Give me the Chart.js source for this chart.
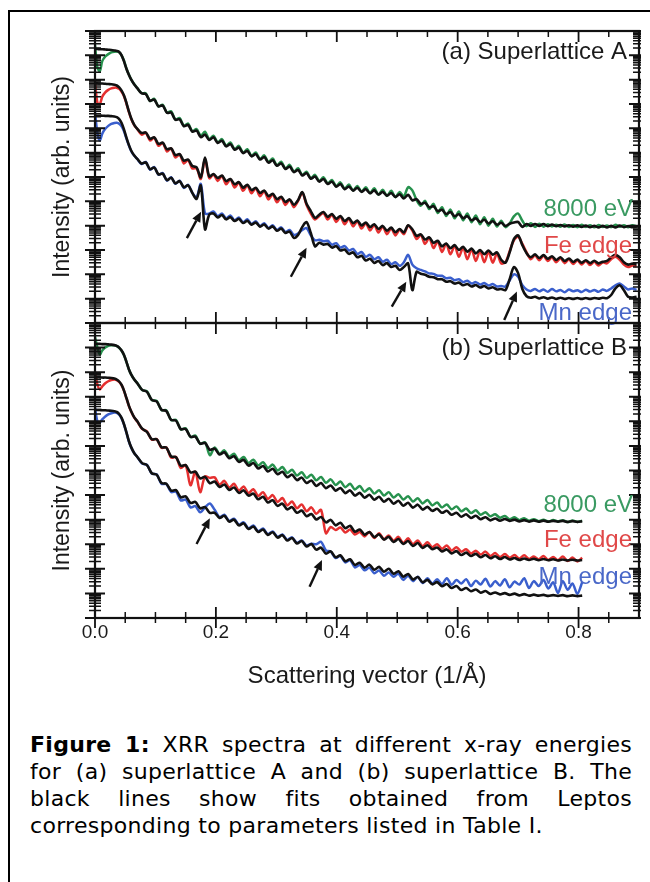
<!DOCTYPE html>
<html lang="en">
<head>
<meta charset="UTF-8">
<title>XRR spectra</title>
<script src="https://cdn.jsdelivr.net/npm/chart.js@4.4.1/dist/chart.umd.min.js"></script>
<style>
  body { margin: 0; background: #fff; width: 650px; height: 882px; overflow: hidden; position: relative; }
  #frame { position: absolute; left: 8px; top: 10px; right: -20px; bottom: -20px; border-left: 2px solid #000; border-top: 2px solid #000; }
  canvas { position: absolute; left: 0; }
  #chartA { top: 0; }
  #chartB { top: 300px; }
  #caption { position: absolute; left: 30px; top: 731px; width: 602px; font-family: "DejaVu Sans", Verdana, sans-serif; font-size: 22px; line-height: 27px; color: #000; letter-spacing: 0.3px; }
  #caption div { text-align: justify; text-align-last: justify; }
  #caption div.last { text-align-last: left; }
</style>
</head>
<body>
<div id="frame"></div>
<canvas id="chartA" width="650" height="330"></canvas>
<canvas id="chartB" width="650" height="400"></canvas>
<div id="caption">
  <div><b>Figure 1:</b> XRR spectra at different x-ray energies</div>
  <div>for (a) superlattice A and (b) superlattice B. The</div>
  <div>black lines show fits obtained from Leptos</div>
  <div class="last">corresponding to parameters listed in Table I.</div>
</div>
<script>
// y values are log10(intensity) in decades, 0 = bottom of each panel, 12 = top
const yDecades = [0, 1, 2, 3, 4, 5, 6, 7, 8, 9, 10, 11, 12];
const yMinorFactors = [2, 3, 4, 5, 6, 7, 8, 9];
const xMajorTicks = [0, 0.2, 0.4, 0.6, 0.8];
const xTickLabels = ['0.0', '0.2', '0.4', '0.6', '0.8'];
const xMinorTicks = [0.05, 0.1, 0.15, 0.25, 0.3, 0.35, 0.45, 0.5, 0.55, 0.65, 0.7, 0.75, 0.85];

// panel (a) superlattice A
const qA = [0, 0.004, 0.008, 0.012, 0.017, 0.022, 0.027, 0.032, 0.036, 0.040, 0.044, 0.048, 0.052, 0.056, 0.060, 0.065,
  0.070, 0.077, 0.084, 0.091, 0.098, 0.105, 0.112, 0.119, 0.126, 0.133,
  0.140, 0.147, 0.154, 0.161, 0.168, 0.175, 0.182, 0.189, 0.196, 0.203,
  0.210, 0.217, 0.224, 0.231, 0.238, 0.245, 0.252, 0.259, 0.266, 0.273,
  0.280, 0.287, 0.294, 0.301, 0.308, 0.315, 0.322, 0.329, 0.336, 0.343,
  0.350, 0.357, 0.364, 0.371, 0.378, 0.385, 0.392, 0.399, 0.406, 0.413,
  0.420, 0.427, 0.434, 0.441, 0.448, 0.455, 0.462, 0.469, 0.476, 0.483,
  0.490, 0.497, 0.504, 0.511, 0.518, 0.525, 0.532, 0.539, 0.546, 0.553,
  0.560, 0.567, 0.574, 0.581, 0.588, 0.595, 0.602, 0.609, 0.616, 0.623,
  0.630, 0.637, 0.644, 0.651, 0.658, 0.665, 0.672, 0.679, 0.686, 0.693,
  0.700, 0.707, 0.714, 0.721, 0.728, 0.735, 0.742, 0.749, 0.756, 0.763,
  0.770, 0.777, 0.784, 0.791, 0.798, 0.805, 0.812, 0.819, 0.826, 0.833,
  0.840, 0.847, 0.854, 0.861, 0.868, 0.875, 0.882, 0.889, 0.896];

const a8000 = [11.43, 10.50, 10.35, 10.76, 10.95, 11.05, 11.12, 11.15, 11.16, 11.13, 11.00, 10.78, 10.46, 10.21, 10.00, 9.81,
  9.66, 9.45, 9.44, 9.12, 9.21, 8.90, 8.97, 8.65, 8.70, 8.36,
  8.42, 8.10, 8.20, 7.88, 7.97, 7.70, 7.86, 7.55, 7.70, 7.42,
  7.56, 7.28, 7.42, 7.14, 7.28, 7.00, 7.14, 6.87, 7.01, 6.74,
  6.89, 6.61, 6.76, 6.48, 6.63, 6.35, 6.50, 6.22, 6.36, 6.08,
  6.22, 5.95, 6.09, 5.83, 5.99, 5.73, 5.88, 5.62, 5.78, 5.52,
  5.69, 5.45, 5.63, 5.40, 5.58, 5.33, 5.54, 5.27, 5.48, 5.22,
  5.44, 5.17, 5.38, 5.20, 5.58, 5.45, 5.05, 4.82, 5.02, 4.68,
  4.90, 4.52, 4.76, 4.40, 4.66, 4.30, 4.58, 4.22, 4.50, 4.14,
  4.42, 4.06, 4.35, 4.00, 4.28, 3.96, 4.20, 3.94, 4.10, 4.38,
  4.50, 4.20, 3.98, 4.10, 3.95, 4.08, 3.96, 4.06, 3.97, 4.04,
  3.96, 4.05, 3.95, 4.03, 3.94, 4.04, 3.95, 4.02, 3.93, 4.03,
  3.95, 4.01, 3.94, 4.04, 3.96, 4.02, 3.94, 4.02, 3.97];
const a8000Fit = [11.26, 11.26, 11.25, 11.25, 11.24, 11.23, 11.22, 11.20, 11.18, 11.14, 11.00, 10.75, 10.45, 10.20, 10.00, 9.80,
  9.65, 9.44, 9.41, 9.13, 9.18, 8.90, 8.94, 8.64, 8.65, 8.35,
  8.37, 8.09, 8.14, 7.86, 7.91, 7.64, 7.74, 7.52, 7.63, 7.40,
  7.49, 7.26, 7.35, 7.12, 7.21, 6.98, 7.07, 6.85, 6.94, 6.72,
  6.82, 6.59, 6.69, 6.46, 6.56, 6.33, 6.43, 6.20, 6.29, 6.06,
  6.16, 5.93, 6.02, 5.81, 5.92, 5.71, 5.81, 5.60, 5.71, 5.50,
  5.61, 5.44, 5.56, 5.39, 5.50, 5.33, 5.45, 5.28, 5.39, 5.23,
  5.34, 5.18, 5.29, 5.12, 5.27, 5.04, 5.09, 4.89, 4.94, 4.75,
  4.80, 4.60, 4.65, 4.48, 4.56, 4.39, 4.47, 4.31, 4.39, 4.22,
  4.30, 4.15, 4.24, 4.09, 4.18, 4.04, 4.12, 3.99, 4.08, 4.13,
  4.15, 3.95, 4.07, 3.99, 4.07, 3.99, 4.07, 3.98, 4.05, 3.98,
  4.03, 3.97, 4.02, 3.96, 4.01, 3.95, 4.00, 3.94, 3.99, 3.93,
  3.99, 3.93, 3.99, 3.93, 4.00, 3.94, 3.98, 3.94, 3.96];
const aFe = [9.92, 9.05, 9.00, 9.30, 9.48, 9.58, 9.64, 9.67, 9.67, 9.62, 9.50, 9.32, 9.02, 8.68, 8.38, 8.12,
  7.97, 7.74, 7.82, 7.50, 7.62, 7.28, 7.40, 7.05, 7.17, 6.80,
  6.93, 6.56, 6.70, 6.35, 6.36, 5.92, 6.75, 5.95, 6.10, 5.84,
  6.04, 5.70, 5.90, 5.57, 5.77, 5.43, 5.66, 5.33, 5.54, 5.21,
  5.42, 5.08, 5.29, 4.96, 5.17, 4.85, 5.06, 4.76, 5.02, 5.35,
  4.85, 4.50, 4.25, 4.40, 4.52, 4.25, 4.45, 4.15, 4.37, 4.06,
  4.28, 3.97, 4.18, 3.88, 4.10, 3.80, 4.03, 3.72, 3.96, 3.65,
  3.89, 3.60, 3.83, 3.65, 4.00, 3.80, 3.45, 3.62, 3.25, 3.50,
  3.08, 3.36, 2.92, 3.25, 2.82, 3.17, 2.72, 3.10, 2.62, 3.03,
  2.55, 2.97, 2.50, 2.94, 2.48, 2.85, 2.45, 2.50, 2.95, 3.40,
  3.55, 3.25, 2.90, 2.62, 2.78, 2.58, 2.76, 2.55, 2.70, 2.50,
  2.66, 2.46, 2.62, 2.42, 2.58, 2.40, 2.55, 2.38, 2.52, 2.36,
  2.50, 2.45, 2.62, 2.72, 2.60, 2.40, 2.30, 2.36, 2.32];
const aFeFit = [9.85, 9.85, 9.84, 9.84, 9.83, 9.82, 9.81, 9.79, 9.76, 9.68, 9.55, 9.35, 9.05, 8.70, 8.40, 8.14,
  7.98, 7.81, 7.83, 7.57, 7.63, 7.36, 7.41, 7.14, 7.18, 6.90,
  6.94, 6.67, 6.72, 6.45, 6.40, 5.98, 6.80, 6.02, 6.12, 5.96,
  6.06, 5.83, 5.92, 5.70, 5.79, 5.56, 5.68, 5.46, 5.56, 5.34,
  5.44, 5.21, 5.31, 5.09, 5.19, 4.97, 5.08, 4.86, 5.05, 5.38,
  4.90, 4.60, 4.32, 4.45, 4.56, 4.36, 4.48, 4.28, 4.40, 4.19,
  4.31, 4.10, 4.21, 4.01, 4.13, 3.94, 4.06, 3.86, 3.99, 3.79,
  3.92, 3.73, 3.86, 3.72, 4.02, 3.85, 3.58, 3.64, 3.43, 3.52,
  3.29, 3.38, 3.15, 3.27, 3.07, 3.20, 3.00, 3.13, 2.93, 3.06,
  2.86, 3.00, 2.83, 2.98, 2.81, 2.90, 2.60, 2.48, 2.90, 3.45,
  3.60, 3.20, 2.87, 2.70, 2.82, 2.67, 2.79, 2.64, 2.74, 2.59,
  2.70, 2.55, 2.65, 2.51, 2.61, 2.48, 2.58, 2.46, 2.56, 2.45,
  2.52, 2.55, 2.70, 2.80, 2.70, 2.50, 2.40, 2.44, 2.40];
const aMn = [8.67, 7.80, 7.50, 7.78, 7.98, 8.10, 8.18, 8.22, 8.23, 8.19, 8.08, 7.88, 7.58, 7.30, 7.06, 6.87,
  6.74, 6.53, 6.62, 6.30, 6.41, 6.09, 6.16, 5.85, 5.99, 5.72,
  5.85, 5.55, 5.68, 5.35, 5.16, 5.72, 4.50, 4.50, 4.58, 4.38,
  4.50, 4.30, 4.42, 4.22, 4.34, 4.14, 4.26, 4.06, 4.18, 3.98,
  4.10, 3.90, 4.02, 3.82, 3.93, 3.74, 3.82, 3.62, 3.68, 3.82,
  3.90, 3.60, 3.40, 3.42, 3.36, 3.38, 3.22, 3.28, 3.10, 3.16,
  2.98, 3.04, 2.84, 2.92, 2.72, 2.80, 2.62, 2.70, 2.52, 2.60,
  2.42, 2.50, 2.35, 2.50, 2.80, 2.40, 2.25, 2.18, 2.12, 2.04,
  2.02, 1.94, 1.94, 1.84, 1.86, 1.76, 1.80, 1.68, 1.74, 1.62,
  1.68, 1.58, 1.64, 1.54, 1.60, 1.50, 1.52, 1.50, 1.75, 2.00,
  1.90, 1.55, 1.38, 1.32, 1.40, 1.30, 1.38, 1.28, 1.40, 1.30,
  1.36, 1.26, 1.38, 1.30, 1.35, 1.27, 1.37, 1.29, 1.36, 1.28,
  1.38, 1.32, 1.42, 1.55, 1.62, 1.50, 1.38, 1.42, 1.36];
const aMnFit = [8.52, 8.52, 8.52, 8.52, 8.51, 8.51, 8.50, 8.49, 8.46, 8.38, 8.22, 7.95, 7.62, 7.32, 7.08, 6.88,
  6.74, 6.55, 6.60, 6.32, 6.39, 6.11, 6.14, 5.87, 5.97, 5.74,
  5.83, 5.58, 5.66, 5.35, 5.10, 5.65, 3.85, 4.45, 4.50, 4.34,
  4.44, 4.26, 4.35, 4.19, 4.28, 4.11, 4.20, 4.04, 4.13, 3.96,
  4.05, 3.88, 3.97, 3.79, 3.88, 3.70, 3.76, 3.50, 3.62, 3.95,
  4.15, 3.70, 3.15, 3.30, 3.22, 3.25, 3.10, 3.16, 2.98, 3.02,
  2.84, 2.90, 2.70, 2.76, 2.57, 2.64, 2.47, 2.55, 2.38, 2.46,
  2.30, 2.35, 2.18, 2.30, 2.45, 1.35, 2.10, 2.02, 1.98, 1.90,
  1.88, 1.80, 1.80, 1.70, 1.72, 1.62, 1.66, 1.55, 1.60, 1.50,
  1.56, 1.46, 1.52, 1.42, 1.47, 1.38, 1.40, 1.35, 1.80, 2.30,
  2.05, 1.40, 1.10, 1.04, 1.08, 1.01, 1.06, 1.00, 1.05, 0.99,
  1.04, 0.99, 1.03, 0.99, 1.03, 0.99, 1.03, 0.99, 1.03, 1.00,
  1.04, 1.02, 1.15, 1.42, 1.55, 1.35, 1.08, 1.05, 1.08];

// panel (b) superlattice B
const qB = [0, 0.004, 0.008, 0.012, 0.017, 0.022, 0.027, 0.032, 0.036, 0.040, 0.044, 0.048, 0.052, 0.056, 0.060, 0.065,
  0.070, 0.078, 0.086, 0.094, 0.102, 0.110, 0.118, 0.126, 0.134, 0.142,
  0.150, 0.158, 0.166, 0.174, 0.182, 0.190, 0.198, 0.206, 0.214, 0.222,
  0.230, 0.238, 0.246, 0.254, 0.262, 0.270, 0.278, 0.286, 0.294, 0.302,
  0.310, 0.318, 0.326, 0.334, 0.342, 0.350, 0.358, 0.366, 0.374, 0.382,
  0.390, 0.398, 0.406, 0.414, 0.422, 0.430, 0.438, 0.446, 0.454, 0.462,
  0.470, 0.478, 0.486, 0.494, 0.502, 0.510, 0.518, 0.526, 0.534, 0.542,
  0.550, 0.558, 0.566, 0.574, 0.582, 0.590, 0.598, 0.606, 0.614, 0.622,
  0.630, 0.638, 0.646, 0.654, 0.662, 0.670, 0.678, 0.686, 0.694, 0.702,
  0.710, 0.718, 0.726, 0.734, 0.742, 0.750, 0.758, 0.766, 0.774, 0.782,
  0.790, 0.798, 0.806];

const b8000 = [11.44, 11.00, 10.72, 10.88, 11.00, 11.07, 11.09, 11.09, 11.06, 10.99, 10.87, 10.69, 10.42, 10.12, 9.90, 9.70,
  9.56, 9.27, 9.22, 8.86, 8.83, 8.46, 8.45, 8.05, 8.06, 7.67,
  7.72, 7.36, 7.42, 7.08, 7.15, 6.62, 6.94, 6.68, 6.82, 6.56,
  6.68, 6.42, 6.55, 6.30, 6.44, 6.20, 6.34, 6.10, 6.24, 6.00,
  6.14, 5.90, 6.03, 5.80, 5.93, 5.70, 5.83, 5.60, 5.74, 5.50,
  5.64, 5.41, 5.55, 5.32, 5.46, 5.23, 5.37, 5.14, 5.28, 5.06,
  5.20, 4.98, 5.12, 4.90, 5.03, 4.82, 4.95, 4.74, 4.87, 4.66,
  4.80, 4.58, 4.70, 4.50, 4.62, 4.42, 4.54, 4.34, 4.45, 4.27,
  4.38, 4.20, 4.30, 4.14, 4.22, 4.08, 4.15, 4.02, 4.10, 3.98,
  4.06, 3.96, 4.02, 3.94, 4.00, 3.92, 3.99, 3.93, 3.98, 3.90,
  3.97, 3.91, 3.96];
const b8000Fit = [11.15, 11.15, 11.15, 11.14, 11.14, 11.13, 11.12, 11.10, 11.07, 11.00, 10.88, 10.70, 10.42, 10.12, 9.90, 9.70,
  9.55, 9.28, 9.20, 8.87, 8.81, 8.47, 8.42, 8.06, 8.03, 7.68,
  7.69, 7.37, 7.38, 7.09, 7.12, 6.84, 6.89, 6.65, 6.74, 6.50,
  6.58, 6.35, 6.43, 6.20, 6.30, 6.08, 6.18, 5.96, 6.07, 5.85,
  5.95, 5.73, 5.83, 5.61, 5.71, 5.49, 5.59, 5.37, 5.49, 5.28,
  5.39, 5.18, 5.29, 5.08, 5.19, 4.98, 5.09, 4.89, 5.01, 4.81,
  4.93, 4.73, 4.85, 4.65, 4.77, 4.57, 4.69, 4.49, 4.61, 4.41,
  4.52, 4.36, 4.44, 4.28, 4.36, 4.20, 4.28, 4.12, 4.22, 4.07,
  4.16, 4.02, 4.10, 3.97, 4.05, 3.96, 4.03, 3.95, 4.00, 3.93,
  3.98, 3.92, 3.97, 3.92, 3.96, 3.92, 3.95, 3.92, 3.95, 3.91,
  3.94, 3.91, 3.93];
const bFe = [10.02, 9.50, 9.30, 9.42, 9.55, 9.63, 9.68, 9.70, 9.68, 9.60, 9.47, 9.24, 8.94, 8.63, 8.39, 8.15,
  7.99, 7.69, 7.58, 7.25, 7.28, 6.92, 6.94, 6.52, 6.55, 6.10,
  6.22, 5.40, 5.95, 5.12, 5.76, 5.70, 5.72, 5.42, 5.58, 5.30,
  5.46, 5.18, 5.35, 5.08, 5.24, 4.96, 5.12, 4.84, 5.00, 4.72,
  4.88, 4.58, 4.74, 4.46, 4.62, 4.34, 4.50, 4.24, 4.40, 3.45,
  3.70, 3.58, 3.68, 3.48, 3.60, 3.40, 3.50, 3.32, 3.50, 3.25,
  3.45, 3.20, 3.36, 3.14, 3.30, 3.05, 3.24, 3.00, 3.15, 2.92,
  3.08, 2.88, 3.00, 2.82, 2.95, 2.74, 2.88, 2.70, 2.80, 2.62,
  2.74, 2.58, 2.70, 2.52, 2.64, 2.48, 2.60, 2.45, 2.56, 2.42,
  2.55, 2.40, 2.50, 2.38, 2.52, 2.36, 2.48, 2.35, 2.50, 2.32,
  2.46, 2.30, 2.45];
const bFeFit = [9.79, 9.79, 9.79, 9.78, 9.78, 9.77, 9.76, 9.74, 9.70, 9.62, 9.48, 9.25, 8.95, 8.64, 8.40, 8.16,
  8.00, 7.70, 7.57, 7.27, 7.27, 6.95, 6.93, 6.57, 6.54, 6.19,
  6.22, 5.92, 5.95, 5.68, 5.74, 5.48, 5.55, 5.33, 5.43, 5.21,
  5.31, 5.09, 5.19, 4.98, 5.06, 4.83, 4.93, 4.70, 4.79, 4.56,
  4.65, 4.42, 4.51, 4.28, 4.37, 4.14, 4.23, 4.01, 4.11, 3.89,
  3.99, 3.77, 3.87, 3.65, 3.75, 3.51, 3.60, 3.39, 3.50, 3.29,
  3.40, 3.19, 3.30, 3.09, 3.21, 3.01, 3.13, 2.93, 3.05, 2.85,
  2.96, 2.80, 2.87, 2.71, 2.79, 2.63, 2.72, 2.56, 2.66, 2.52,
  2.61, 2.47, 2.56, 2.43, 2.51, 2.40, 2.48, 2.38, 2.44, 2.36,
  2.42, 2.36, 2.41, 2.35, 2.40, 2.35, 2.39, 2.34, 2.38, 2.34,
  2.37, 2.34, 2.36];
const bMn = [8.57, 8.00, 7.95, 8.08, 8.20, 8.28, 8.33, 8.36, 8.34, 8.27, 8.12, 7.87, 7.54, 7.19, 6.93, 6.70,
  6.55, 6.28, 6.23, 5.87, 5.84, 5.46, 5.45, 5.12, 5.14, 4.78,
  4.82, 4.50, 4.55, 4.30, 4.50, 4.66, 4.40, 4.10, 4.20, 3.95,
  4.04, 3.80, 3.89, 3.65, 3.76, 3.53, 3.64, 3.41, 3.52, 3.30,
  3.40, 3.18, 3.28, 3.06, 3.15, 2.95, 3.02, 3.00, 3.10, 2.75,
  2.70, 2.44, 2.52, 2.26, 2.35, 2.06, 2.15, 1.94, 2.05, 1.82,
  1.93, 1.72, 1.85, 1.68, 1.80, 1.55, 1.72, 1.50, 1.68, 1.42,
  1.62, 1.40, 1.58, 1.38, 1.62, 1.35, 1.55, 1.40, 1.58, 1.30,
  1.52, 1.36, 1.60, 1.28, 1.50, 1.32, 1.58, 1.25, 1.48, 1.36,
  1.62, 1.22, 1.50, 1.30, 1.55, 1.20, 1.45, 1.02, 1.50, 1.15,
  1.40, 0.98, 1.45];
const bMnFit = [8.46, 8.46, 8.46, 8.45, 8.45, 8.44, 8.43, 8.41, 8.38, 8.30, 8.14, 7.88, 7.55, 7.20, 6.94, 6.70,
  6.55, 6.30, 6.22, 5.89, 5.83, 5.49, 5.46, 5.18, 5.20, 4.91,
  4.95, 4.68, 4.72, 4.46, 4.51, 4.28, 4.28, 4.07, 4.16, 3.92,
  4.00, 3.77, 3.85, 3.62, 3.72, 3.50, 3.60, 3.38, 3.49, 3.27,
  3.37, 3.15, 3.25, 3.03, 3.13, 2.91, 3.01, 2.78, 2.86, 2.62,
  2.71, 2.47, 2.55, 2.31, 2.39, 2.16, 2.25, 2.05, 2.17, 1.96,
  2.08, 1.88, 2.00, 1.80, 1.90, 1.68, 1.79, 1.57, 1.67, 1.45,
  1.55, 1.37, 1.46, 1.29, 1.38, 1.22, 1.30, 1.14, 1.22, 1.09,
  1.16, 1.03, 1.10, 0.98, 1.04, 0.96, 1.01, 0.94, 0.99, 0.92,
  0.97, 0.91, 0.95, 0.91, 0.94, 0.90, 0.93, 0.90, 0.93, 0.89,
  0.92, 0.89, 0.91];

// arrows: [tail q, tail decade, head q, head decade]
const arrowsA = [[0.152, 3.49, 0.1755, 4.57], [0.324, 1.90, 0.350, 3.09], [0.491, 0.67, 0.515, 1.70], [0.677, 0.12, 0.698, 1.29]];
const arrowsB = [[0.168, 3.01, 0.190, 4.06], [0.355, 1.27, 0.3755, 2.36]];

const green = '#27924e', red = '#e53030', blue = '#3a5fcd', fitColor = '#111';
const textFont = '"Liberation Sans", Arial, sans-serif';

function series(q, v) {
  return q.map((x, i) => ({ x: x, y: v[i] }));
}
function line(data, color, isFit) {
  return { data: data, borderColor: color, borderWidth: isFit ? 2.6 : 2.5, pointRadius: 0, tension: 0.3, fill: false, order: isFit ? 0 : 1 };
}

const panelAxes = {
  id: 'panelAxes',
  afterDatasetsDraw(chart, args, o) {
    const { ctx, chartArea: a, scales: { x, y } } = chart;
    ctx.save();
    ctx.strokeStyle = '#111';
    const top = yDecades[yDecades.length - 1];
    yDecades.forEach(n => {
      const list = [{ v: n, major: true }];
      if (n < top) yMinorFactors.forEach(k => list.push({ v: n + Math.log10(k), major: false }));
      list.forEach(t => {
        const py = y.getPixelForValue(t.v);
        const len = t.major ? 10 : 6;
        ctx.lineWidth = t.major ? 2 : 1.5;
        ctx.beginPath();
        ctx.moveTo(a.left - len, py); ctx.lineTo(a.left + len, py);
        ctx.moveTo(a.right - len, py); ctx.lineTo(a.right + 2, py);
        ctx.stroke();
      });
    });
    const xt = xMajorTicks.map(v => ({ v, major: true })).concat(xMinorTicks.map(v => ({ v, major: false })));
    xt.forEach(t => {
      const px = x.getPixelForValue(t.v);
      const len = t.major ? 11 : 6;
      ctx.lineWidth = t.major ? 1.8 : 1.5;
      ctx.beginPath();
      ctx.moveTo(px, a.top); ctx.lineTo(px, a.top + len);
      ctx.moveTo(px, a.bottom + (o.bottomOut ? len - 1 : 0)); ctx.lineTo(px, a.bottom - len);
      ctx.stroke();
    });
    ctx.lineWidth = 2.2;
    ctx.strokeRect(a.left, a.top, a.right - a.left, a.bottom - a.top);

    ctx.fillStyle = '#111';
    ctx.lineWidth = 2.4;
    o.arrows.forEach(ar => {
      const x1 = x.getPixelForValue(ar[0]), y1 = y.getPixelForValue(ar[1]);
      const x2 = x.getPixelForValue(ar[2]), y2 = y.getPixelForValue(ar[3]);
      const ang = Math.atan2(y2 - y1, x2 - x1);
      const hl = 10, hw = 4.5;
      const bx = x2 - hl * Math.cos(ang), by = y2 - hl * Math.sin(ang);
      ctx.beginPath();
      ctx.moveTo(x1, y1); ctx.lineTo(bx, by);
      ctx.stroke();
      ctx.beginPath();
      ctx.moveTo(x2, y2);
      ctx.lineTo(bx + hw * Math.sin(ang), by - hw * Math.cos(ang));
      ctx.lineTo(bx - hw * Math.sin(ang), by + hw * Math.cos(ang));
      ctx.closePath();
      ctx.fill();
    });
    ctx.restore();
  },
  afterDraw(chart, args, o) {
    const { ctx, chartArea: a, scales: { x } } = chart;
    ctx.save();
    ctx.textBaseline = 'middle';
    ctx.textAlign = 'right';
    ctx.font = '24px ' + textFont;
    o.labels.forEach(l => {
      ctx.fillStyle = l.color;
      ctx.fillText(l.text, l.x, l.y);
    });
    ctx.fillStyle = '#1a1a1a';
    ctx.save();
    ctx.translate(63, (a.top + a.bottom) / 2);
    ctx.rotate(-Math.PI / 2);
    ctx.textAlign = 'center';
    ctx.font = '23px ' + textFont;
    ctx.fillText('Intensity (arb. units)', 0, 0);
    ctx.restore();
    if (o.xLabels) {
      ctx.textAlign = 'center';
      ctx.font = '19px ' + textFont;
      xMajorTicks.forEach((v, i) => ctx.fillText(xTickLabels[i], x.getPixelForValue(v), a.bottom + 15));
      ctx.font = '24px ' + textFont;
      ctx.fillText('Scattering vector (1/\u00C5)', (a.left + a.right) / 2, a.bottom + 58);
    }
    ctx.restore();
  }
};

function makeChart(id, q, sets, padding, opts) {
  return new Chart(document.getElementById(id), {
    type: 'line',
    data: {
      datasets: [
        line(series(q, sets[1]), fitColor, true),
        line(series(q, sets[3]), fitColor, true),
        line(series(q, sets[5]), fitColor, true),
        line(series(q, sets[0]), green, false),
        line(series(q, sets[2]), red, false),
        line(series(q, sets[4]), blue, false)
      ]
    },
    options: {
      responsive: false,
      animation: false,
      layout: { padding: padding },
      scales: {
        x: { type: 'linear', min: 0, max: 0.9, display: false },
        y: { type: 'linear', min: 0, max: 12, display: false }
      },
      plugins: {
        legend: { display: false },
        tooltip: { enabled: false },
        panelAxes: opts
      }
    },
    plugins: [panelAxes]
  });
}

makeChart('chartA', qA, [a8000, a8000Fit, aFe, aFeFit, aMn, aMnFit],
  { left: 95, right: 11, top: 31, bottom: 7 },
  {
    arrows: arrowsA, bottomOut: false, xLabels: false,
    labels: [
      { text: '(a) Superlattice A', x: 627, y: 52, color: '#1a1a1a' },
      { text: '8000 eV', x: 633, y: 209, color: '#3a9a62' },
      { text: 'Fe edge', x: 632, y: 246, color: '#e04848' },
      { text: 'Mn edge', x: 632, y: 313, color: '#4a68c8' }
    ]
  });

makeChart('chartB', qB, [b8000, b8000Fit, bFe, bFeFit, bMn, bMnFit],
  { left: 95, right: 11, top: 23, bottom: 82 },
  {
    arrows: arrowsB, bottomOut: true, xLabels: true,
    labels: [
      { text: '(b) Superlattice B', x: 627, y: 48, color: '#1a1a1a' },
      { text: '8000 eV', x: 633, y: 205, color: '#3a9a62' },
      { text: 'Fe edge', x: 632, y: 240, color: '#e04848' },
      { text: 'Mn edge', x: 632, y: 277, color: '#4a68c8' }
    ]
  });
</script>
</body>
</html>
